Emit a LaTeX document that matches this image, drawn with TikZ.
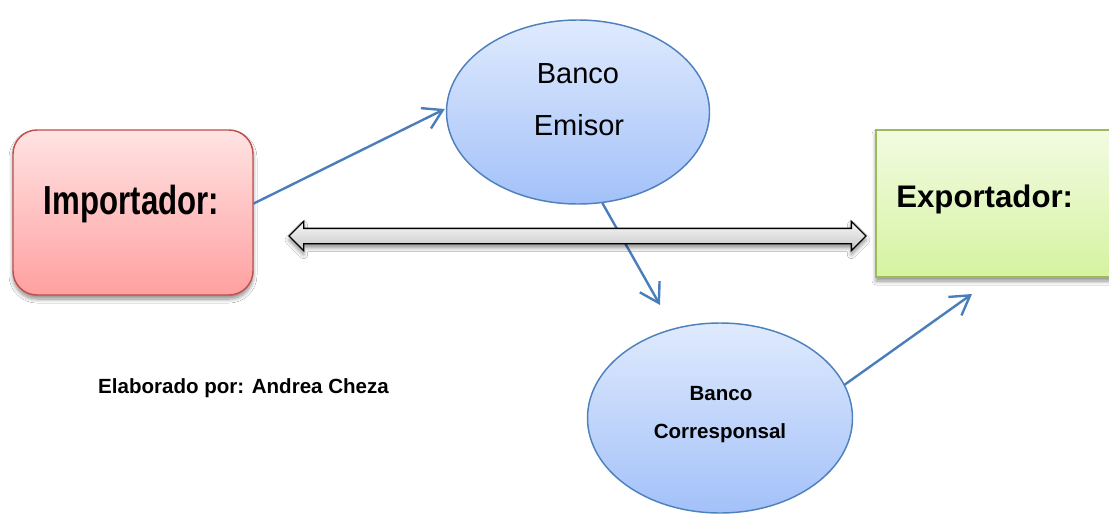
\documentclass[tikz,border=0pt]{standalone}
\usepackage{fontspec}
\setmainfont{Liberation Sans}
\usetikzlibrary{shapes.geometric,shapes.arrows,shadows.blur,arrows.meta,calc}

\definecolor{impTop}{HTML}{FFE3E3}
\definecolor{impBot}{HTML}{FFA0A0}
\definecolor{impLine}{HTML}{C0504D}
\definecolor{expTop}{HTML}{F2FBE2}
\definecolor{expBot}{HTML}{D5F3A0}
\definecolor{expLine}{HTML}{9BBB59}
\definecolor{bankTop}{HTML}{DFEAFD}
\definecolor{bankBot}{HTML}{A3C1F9}
\definecolor{bankLine}{HTML}{4F81BD}
\definecolor{flow}{HTML}{4A7EBB}

\tikzset{
  softshadow/.style={blur shadow={shadow xshift=0pt, shadow yshift=-3pt,
      shadow blur steps=8, shadow blur radius=3pt, shadow opacity=45}},
  impbox/.style={rectangle, rounded corners=18pt, draw=impLine, line width=1.1pt,
      top color=impTop, bottom color=impBot, softshadow,
      minimum width=180pt, minimum height=123.75pt, inner sep=0pt},
  expbox/.style={rectangle, draw=expLine, line width=1.1pt,
      top color=expTop, bottom color=expBot, softshadow,
      minimum width=183pt, minimum height=110.25pt, inner sep=0pt},
  bank/.style={ellipse, draw=bankLine, line width=1.1pt,
      top color=bankTop, bottom color=bankBot, inner sep=0pt},
  bigtext/.style={font=\fontsize{23.4}{28}\selectfont\bfseries, inner sep=0pt},
  banktext/.style={font=\fontsize{21.75}{26}\selectfont, inner sep=0pt},
  smalltext/.style={font=\fontsize{15.4}{18}\selectfont\bfseries, inner sep=0pt},
  flowarrow/.style={draw=flow, line width=1.8pt, line cap=round,
      -{Straight Barb[length=14pt, width=17pt, line width=1.8pt]}},
  linkarrow/.style={double arrow, draw=black, line width=1pt,
      top color=gray!5, bottom color=gray!45, softshadow,
      text height=5.25pt, text depth=5.25pt, text width=0pt,
      double arrow head extend=5.25pt,
      double arrow tip angle=90, inner sep=0pt, minimum height=432.75pt}
}

\begin{document}
\begin{tikzpicture}[x=0.75pt, y=-0.75pt]
  \clip (0,0) rectangle (1109,514);
  \fill[white] (0,0) rectangle (1109,514);

  % parties
  \node[impbox] (imp) at (133,212.5) {};
  \node[bigtext, anchor=base] (impLabel) at (131.5,214) {\scalebox{1}[1.3]{Importador:}};

  \node[expbox] (exp) at (998,203.5) {};
  \node[bigtext, anchor=base west] (expLabel) at (896,207) {Exportador:};

  % banks
  \node[bank, minimum width=197.25pt, minimum height=138pt] (emi) at (578,112) {};
  \node[banktext, anchor=base] (emiL1) at (578,83) {Banco};
  \node[banktext, anchor=base] (emiL2) at (579,135) {Emisor};

  \node[bank, minimum width=198.75pt, minimum height=142.5pt] (cor) at (720,418) {};
  \node[smalltext, anchor=base] (corL1) at (721,400) {Banco};
  \node[smalltext, anchor=base] (corL2) at (720,438) {Corresponsal};

  % credit note
  \node[smalltext, anchor=base] (note) at (243.5,393) {Elaborado por: Andrea Cheza};

  % flow of the letter of credit
  \coordinate (corTop) at (660,305);
  \coordinate (expBelow) at (972,294);
  \draw[flowarrow] ($(imp.east)+(0,-9)$) -- ($(emi.west)+(-1,-3)$);
  \draw[flowarrow] (emi.-75) -- (corTop);
  \draw[flowarrow] (cor.15) -- (expBelow);

  % trade link between importer and exporter
  \node[linkarrow] (link) at (577.5,236) {};
\end{tikzpicture}
\end{document}
